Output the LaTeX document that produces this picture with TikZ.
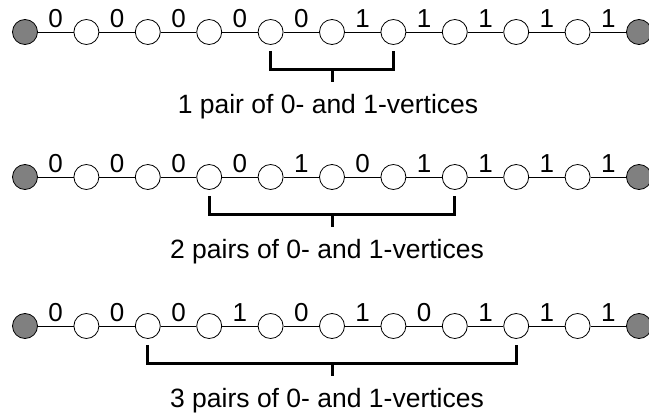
\documentclass[tikz,border=0pt]{standalone}
\usepackage{fontspec}
\setmainfont{Liberation Sans}

\begin{document}
\begin{tikzpicture}[x=1pt, y=-1pt,
        vtx/.style={circle, draw, fill=white, line width=0.8pt, minimum size=25pt, inner sep=0pt},
        endvtx/.style={vtx, fill=gray},
        edge/.style={line width=0.8pt},
        lbl/.style={above=4pt, inner sep=0pt, font=\fontsize{26}{30}\selectfont},
        brk/.style={line width=3pt},
        capt/.style={anchor=base, inner sep=0pt, font=\fontsize{26.5}{30}\selectfont}]
        \useasboundingbox (0,0) rectangle (649,415);

        % first row
        \node[endvtx] (a0) at (25, 32) {};
        \node[vtx] (a1) at (86.4, 32) {};
        \node[vtx] (a2) at (147.8, 32) {};
        \node[vtx] (a3) at (209.2, 32) {};
        \node[vtx] (a4) at (270.6, 32) {};
        \node[vtx] (a5) at (332, 32) {};
        \node[vtx] (a6) at (393.4, 32) {};
        \node[vtx] (a7) at (454.8, 32) {};
        \node[vtx] (a8) at (516.2, 32) {};
        \node[vtx] (a9) at (577.6, 32) {};
        \node[endvtx] (a10) at (639, 32) {};
        \draw[edge] (a0) -- node[lbl]{0} (a1) -- node[lbl]{0} (a2) -- node[lbl]{0} (a3)
            -- node[lbl]{0} (a4) -- node[lbl]{0} (a5) -- node[lbl]{1} (a6) -- node[lbl]{1} (a7)
            -- node[lbl]{1} (a8) -- node[lbl]{1} (a9) -- node[lbl]{1} (a10);

        \coordinate (am) at (332, 69);
        \coordinate (at) at (332, 82);
        \draw[brk] ([yshift=-6pt]a4.south) |- (am) -| ([yshift=-6pt]a6.south);
        \draw[brk] (am) -- (at);
        \node[capt] (capa) at (328, 113) {1 pair of 0- and 1-vertices};

        % second row
        \node[endvtx] (b0) at (25, 177) {};
        \node[vtx] (b1) at (86.4, 177) {};
        \node[vtx] (b2) at (147.8, 177) {};
        \node[vtx] (b3) at (209.2, 177) {};
        \node[vtx] (b4) at (270.6, 177) {};
        \node[vtx] (b5) at (332, 177) {};
        \node[vtx] (b6) at (393.4, 177) {};
        \node[vtx] (b7) at (454.8, 177) {};
        \node[vtx] (b8) at (516.2, 177) {};
        \node[vtx] (b9) at (577.6, 177) {};
        \node[endvtx] (b10) at (639, 177) {};
        \draw[edge] (b0) -- node[lbl]{0} (b1) -- node[lbl]{0} (b2) -- node[lbl]{0} (b3)
            -- node[lbl]{0} (b4) -- node[lbl]{1} (b5) -- node[lbl]{0} (b6) -- node[lbl]{1} (b7)
            -- node[lbl]{1} (b8) -- node[lbl]{1} (b9) -- node[lbl]{1} (b10);

        \coordinate (bm) at (332, 214);
        \coordinate (bt) at (332, 227);
        \draw[brk] ([yshift=-6pt]b3.south) |- (bm) -| ([yshift=-6pt]b7.south);
        \draw[brk] (bm) -- (bt);
        \node[capt] (capb) at (327, 258) {2 pairs of 0- and 1-vertices};

        % third row
        \node[endvtx] (c0) at (25, 326) {};
        \node[vtx] (c1) at (86.4, 326) {};
        \node[vtx] (c2) at (147.8, 326) {};
        \node[vtx] (c3) at (209.2, 326) {};
        \node[vtx] (c4) at (270.6, 326) {};
        \node[vtx] (c5) at (332, 326) {};
        \node[vtx] (c6) at (393.4, 326) {};
        \node[vtx] (c7) at (454.8, 326) {};
        \node[vtx] (c8) at (516.2, 326) {};
        \node[vtx] (c9) at (577.6, 326) {};
        \node[endvtx] (c10) at (639, 326) {};
        \draw[edge] (c0) -- node[lbl]{0} (c1) -- node[lbl]{0} (c2) -- node[lbl]{0} (c3)
            -- node[lbl]{1} (c4) -- node[lbl]{0} (c5) -- node[lbl]{1} (c6) -- node[lbl]{0} (c7)
            -- node[lbl]{1} (c8) -- node[lbl]{1} (c9) -- node[lbl]{1} (c10);

        \coordinate (cm) at (332, 363);
        \coordinate (ct) at (332, 376);
        \draw[brk] ([yshift=-6pt]c2.south) |- (cm) -| ([yshift=-6pt]c8.south);
        \draw[brk] (cm) -- (ct);
        \node[capt] (capc) at (327, 407) {3 pairs of 0- and 1-vertices};
    \end{tikzpicture}
\end{document}
